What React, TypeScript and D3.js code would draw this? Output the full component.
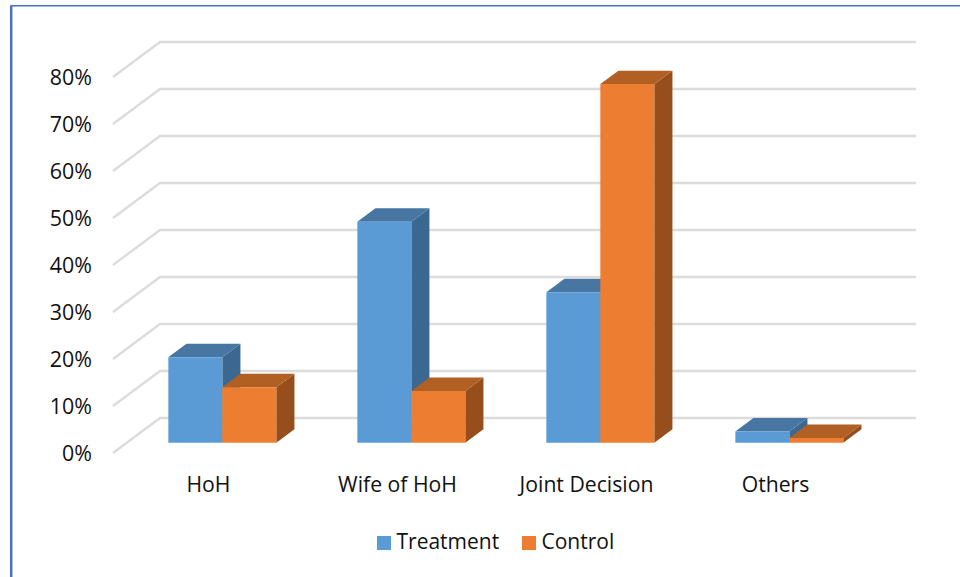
import React from "react";
import * as d3 from "d3";

const categories = ["HoH", "Wife of HoH", "Joint Decision", "Others"];
const treatment = [18.2, 47, 32, 2.4];
const control = [11.8, 11, 76.3, 1];
const yTicks = [0, 10, 20, 30, 40, 50, 60, 70, 80];
const seriesNames = ["Treatment", "Control"];

const FONT = "'Open Sans', sans-serif";
const GRID = "#dcdcdc";
const FILLS = [
  { front: "#5b9bd5", top: "#4676a1", side: "#3b6890" },
  { front: "#ed7d31", top: "#b25f23", side: "#964f1c" },
];

// Oblique projection: the floor runs from the front edge back by (depthX, -depthY).
const originX = 113;
const originY = 453;
const depthX = 47;
const depthY = 35;
const floorWidth = 756;
const wallHeight = 376;
const barNear = 0.305;
const barFar = 0.69;

const x = d3.scaleBand<string>().domain(categories).range([0, floorWidth]).paddingInner(0).paddingOuter(0);
const y = d3.scaleLinear().domain([0, 80]).range([0, wallHeight]);

// Maps plot coordinates (along x, height, depth 0..1) onto the page.
const project = (px: number, h: number, d: number): [number, number] => [
  originX + px + d * depthX,
  originY - h - d * depthY,
];

const path = (pts: [number, number][]) => d3.line()(pts) + "Z";

function Bar({ left, width, value, fills }: { left: number; width: number; value: number; fills: typeof FILLS[number] }) {
  const h = y(value);
  const right = left + width;
  return (
    <g transform="translate(0.5,0.4)">
      <path fill={fills.side} d={path([project(right, 0, barNear), project(right, 0, barFar), project(right, h, barFar), project(right, h, barNear)])} />
      <path fill={fills.top} d={path([project(left, h, barNear), project(right, h, barNear), project(right, h, barFar), project(left, h, barFar)])} />
      <path fill={fills.front} d={path([project(left, 0, barNear), project(right, 0, barNear), project(right, h, barNear), project(left, h, barNear)])} />
    </g>
  );
}

export default function App() {
  const band = x.bandwidth();
  const barWidth = band * (54 / 189);
  const gap = (band - barWidth * 2) / 2;

  return (
    <svg width={960} height={577} style={{ position: "absolute", left: 0, top: 0, background: "#fff" }}>
      {/* chart frame, open on the right and bottom */}
      <path d="M11.2 577V5.8H960" fill="none" stroke="#4472c4" strokeWidth={1.5} />
      <path d="M11.2 577V5.8" fill="none" stroke="#4472c4" strokeWidth={2.4} />

      {yTicks.map((t) => {
        const a = project(0, y(t), 0);
        const b = project(0, y(t), 1);
        const c = project(floorWidth, y(t), 1);
        return (
          <g key={t}>
            <polyline points={[a, b, c].map((p) => p.join(",")).join(" ")} fill="none" stroke={GRID} strokeWidth={2.4} />
            <text x={92} y={a[1] + 8} textAnchor="end" fontFamily={FONT} fontSize={21.4} fill="#111">
              {t}%
            </text>
          </g>
        );
      })}

      {categories.map((c, i) => {
        const left = (x(c) as number) + gap;
        return (
          <g key={c}>
            <Bar left={left} width={barWidth} value={treatment[i]} fills={FILLS[0]} />
            <Bar left={left + barWidth} width={barWidth} value={control[i]} fills={FILLS[1]} />
            <text
              x={originX + (x(c) as number) + band / 2 + 1}
              y={491.5}
              textAnchor="middle"
              fontFamily={FONT}
              fontSize={21.2}
              fill="#111"
            >
              {c}
            </text>
          </g>
        );
      })}

      {seriesNames.map((name, i) => {
        const sx = [377, 522][i];
        return (
          <g key={name}>
            <rect x={sx} y={536} width={14} height={14} fill={FILLS[i].front} />
            <text x={sx + 19.5} y={549} fontFamily={FONT} fontSize={21} fill="#111">
              {name}
            </text>
          </g>
        );
      })}
    </svg>
  );
}
